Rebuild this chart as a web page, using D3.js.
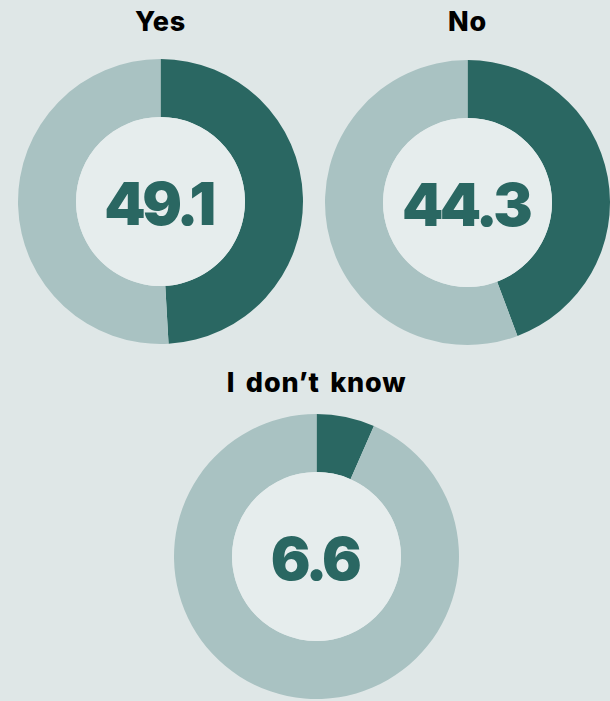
<!DOCTYPE html>
<html>
<head>
<meta charset="utf-8">
<script src="https://cdn.jsdelivr.net/npm/d3@7"></script>
<style>
  html, body { margin: 0; padding: 0; background: #dfe7e7; }
  svg { display: block; }
</style>
</head>
<body>
<svg id="chart" width="610" height="701"></svg>
<script>
const categories = ["Yes", "No", "I don\u2019t know"];
const values = [49.1, 44.3, 6.6];
const valueLabels = ["49.1", "44.3", "6.6"];

const W = 610, H = 701;
const svg = d3.select("#chart");
svg.append("rect").attr("width", W).attr("height", H).attr("fill", "#dfe7e7");

const centers = [[160.5, 201.5], [467.5, 202.5], [316.5, 556.5]];
const titleY = [31, 31, 392];
const outerR = 142.5, innerR = 84.5;

const pie = d3.pie().sort(null).value(d => d);
const arc = d3.arc().innerRadius(innerR).outerRadius(outerR);
const colors = ["#2a6762", "#a9c2c2"];

categories.forEach((cat, i) => {
  const g = svg.append("g").attr("transform", `translate(${centers[i][0]},${centers[i][1]})`);
  const data = pie([values[i], 100 - values[i]]);
  g.selectAll("path").data(data).join("path")
    .attr("d", arc)
    .attr("fill", (d, j) => colors[j]);
  g.append("circle").attr("r", innerR).attr("fill", "#e6eded");
  g.append("text")
    .attr("x", -2)
    .attr("y", 2)
    .attr("text-anchor", "middle")
    .attr("dy", "0.36em")
    .attr("font-family", "Inter, sans-serif")
    .attr("font-weight", 900)
    .attr("font-size", 59)
    .attr("letter-spacing", -3.5)
    .attr("fill", "#2a6762")
    .text(valueLabels[i]);
  svg.append("text")
    .attr("x", centers[i][0])
    .attr("y", titleY[i])
    .attr("text-anchor", "middle")
    .attr("font-family", "Inter, sans-serif")
    .attr("font-weight", 800)
    .attr("font-size", 27)
    .attr("letter-spacing", 0.8)
    .attr("word-spacing", 4)
    .attr("fill", "#000")
    .text(cat);
});
</script>
</body>
</html>
